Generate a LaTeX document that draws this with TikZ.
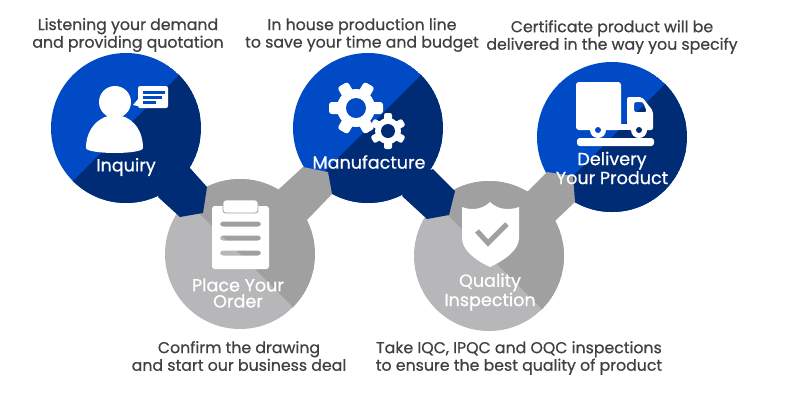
\documentclass[tikz,border=0pt]{standalone}
\usepackage{fontspec}
\setmainfont{Poppins}[FakeBold=0.7]
\usepackage{tikz}
\definecolor{liteblue}{HTML}{004AC6}
\definecolor{deepblue}{HTML}{002B75}
\definecolor{litegray}{HTML}{B7B7B9}
\definecolor{deepgray}{HTML}{A0A0A0}
\definecolor{captiongray}{HTML}{404040}
\tikzset{
	caption/.style={align=center,text=captiongray,inner sep=0pt,font=\fontsize{11.2}{11.4}\selectfont},
	steplabel/.style={align=center,text=white,inner sep=0pt,font=\fontsize{12.5}{11.4}\selectfont},
	icon/.style={fill=white,even odd rule}
}
\begin{document}
\begin{tikzpicture}[x=0.025cm,y=-0.025cm]
	\useasboundingbox (0,0) rectangle (804,404);
	% Circles, split along a diagonal
	\foreach \name/\cx/\cy/\lite/\deep/\sgn in {inquiry/126/128/liteblue/deepblue/1,manufacture/368/128/liteblue/deepblue/1,delivery/612/137/liteblue/deepblue/1,order/240/254/litegray/deepgray/-1,quality/489/256/litegray/deepgray/-1}{
		\coordinate (\name) at (\cx,\cy);
		\begin{scope}
			\clip (\name) circle[radius=75];
			\fill[\lite] (\name) circle[radius=75];
			\fill[\deep] (\cx+\sgn*80,\cy-80) -- (\cx-\sgn*80,\cy+80) -- (\cx+80,\cy-\sgn*-80) -- cycle;
		\end{scope}
	}
	% Links between circles
	\fill[deepblue] (190,168) -- (207,187) -- (203,213) -- (180,217) -- (158,197) -- (170,170) -- cycle;
	\fill[deepgray] (278,190) -- (303,167) -- (328,172) -- (332,194) -- (307,220) -- (290,215) -- cycle;
	\fill[deepblue] (433,169) -- (455,191) -- (449,215) -- (427,219) -- (402,196) -- (415,175) -- cycle;
	\fill[deepgray] (527,192) -- (547,172) -- (573,176) -- (575,202) -- (555,221) -- (540,215) -- cycle;
	% Inquiry icon
	\fill[white] (115,102) circle[radius=16];
	\fill[white] (86,148) .. controls (86,128) and (100,115) .. (115,115) .. controls (130,115) and (143,128) .. (143,148) .. controls (143,151) and (130,153) .. (115,153) .. controls (100,153) and (86,151) .. (86,148) -- cycle;
	\fill[white] (139,98) -- (133,105) -- (142,107) -- cycle;
	\fill[icon,rounded corners=1.5pt] (138,86) rectangle (168,108);
	\fill[liteblue] (143,91) rectangle (165,93.5);
	\fill[liteblue] (143,96) rectangle (162,98.5);
	\fill[liteblue] (143,101) rectangle (156,103.5);
	% Order icon
	\fill[icon,rounded corners=2pt] (212,206) rectangle (269,269)
		(220,221.5) rectangle (261,226.5) (220,235.5) rectangle (261,240.5) (220,250.5) rectangle (261,255.5);
	\draw[deepgray,fill=white,line width=0.6pt,rounded corners=2pt] (223,200) rectangle (258,213);
	% Manufacture icon
	\foreach \a in {0,60,...,300}
		\fill[white,rounded corners=2pt,shift={(356,108)},rotate=\a] (14,-6) rectangle (27,6);
	\fill[white] (356,108) circle[radius=19];
	\fill[liteblue] (356,108) circle[radius=10];
	\foreach \a in {30,90,...,330}
		\fill[white,rounded corners=1.5pt,shift={(388,131)},rotate=\a] (9,-4) rectangle (18,4);
	\fill[white] (388,131) circle[radius=13];
	\fill[deepblue] (388,131) circle[radius=7];
	% Quality icon
	\fill[white] (462,207) .. controls (472,211) and (483,209) .. (490,202) .. controls (497,209) and (508,211) .. (519,207) -- (519,238) .. controls (519,250) and (505,260) .. (490,267) .. controls (475,260) and (462,250) .. (462,238) -- cycle;
	\draw[deepgray,line width=3.6pt] (477,231) -- (488,243) -- (507,224);
	% Delivery icon
	\fill[white,rounded corners=2pt] (576,82) rectangle (621,130);
	\fill[white] (615,124) rectangle (632,130);
	\fill[icon,rounded corners=1.5pt] (627,97) -- (642,97) -- (653,111) -- (653,130) -- (627,130) -- cycle
		(634,102) -- (643,102) -- (647,112) -- (634,112) -- cycle;
	\fill[white] (598,130) circle[radius=8];
	\fill[white] (639,130) circle[radius=8];
	\fill[liteblue] (598,130) circle[radius=3];
	\fill[deepblue] (639,130) circle[radius=3];
	\fill[white,rounded corners=2pt] (577,138) rectangle (654,146);
	% Labels on the circles
	\node[steplabel] (inquirylabel) at (126,167) {Inquiry};
	\node[steplabel] (orderlabel) at (238,293) {Place Your\\Order};
	\node[steplabel] (manufacturelabel) at (369,162) {Manufacture};
	\node[steplabel] (qualitylabel) at (490,292) {Quality\\Inspection};
	\node[steplabel] (deliverylabel) at (612,168) {Delivery\\Your Product};
	% Captions
	\node[caption] (inquirytext) at (128,35) {Listening your demand\\and providing quotation};
	\node[caption] (manufacturetext) at (362,35) {In house production line\\to save your time and budget};
	\node[caption] (deliverytext) at (612,37) {Certificate product will be\\delivered in the way you specify};
	\node[caption] (ordertext) at (239,356) {Confirm the drawing\\and start our business deal};
	\node[caption] (qualitytext) at (519,358) {Take IQC, IPQC and OQC inspections\\to ensure the best quality of product};
\end{tikzpicture}
\end{document}
